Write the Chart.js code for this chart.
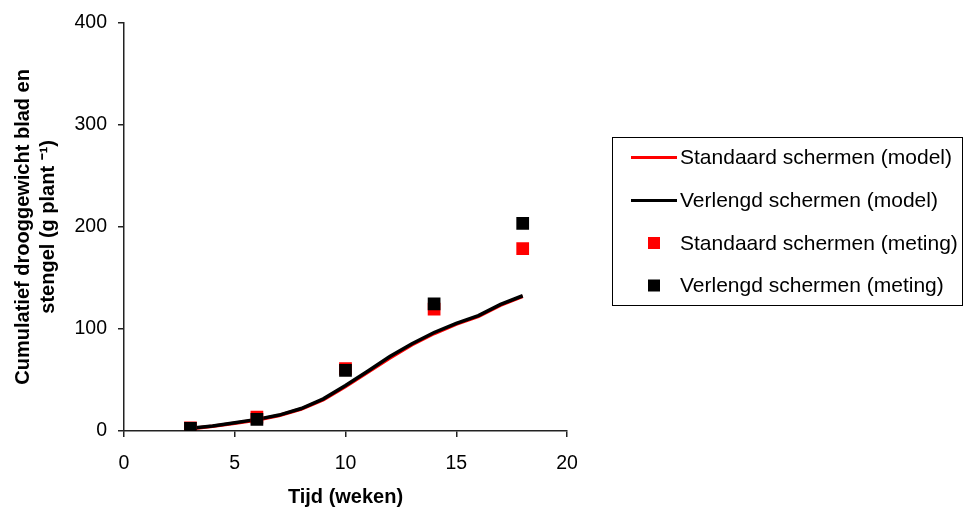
<!DOCTYPE html>
<html>
<head>
<meta charset="utf-8">
<script src="https://cdn.jsdelivr.net/npm/chart.js@4/dist/chart.umd.min.js"></script>
<style>
  html, body { margin: 0; padding: 0; background: #fff; }
  #wrap { position: relative; width: 970px; height: 510px; }
</style>
</head>
<body>
<div id="wrap"><canvas id="chart" width="970" height="510"></canvas></div>
<script>
// model output, weekly
const weeks = [3, 4, 5, 6, 7, 8, 9, 10, 11, 12, 13, 14, 15, 16, 17, 18];
const standaardModel = [2.3, 4.6, 7.6, 10.8, 15.2, 21.5, 30.8, 43.5, 57.5, 71.5, 84.5, 95.5, 104.8, 112.3, 123.3, 132];
const verlengdModel = [2.6, 5, 8, 11.4, 15.6, 22, 31.5, 44.5, 58.5, 73, 85.5, 96.5, 105.5, 113, 124, 132.5];

// measurements
const metingWeeks = [3, 6, 10, 14, 18];
const standaardMeting = [3, 13.5, 61, 119.5, 178.6];
const verlengdMeting = [2.5, 11.5, 59.5, 124.6, 203.3];

const xTicks = [0, 5, 10, 15, 20];
const yTicks = [0, 100, 200, 300, 400];

const seriesNames = [
  "Standaard schermen (model)",
  "Verlengd schermen (model)",
  "Standaard schermen (meting)",
  "Verlengd schermen (meting)",
];

const toXY = (xs, ys) => xs.map((x, i) => ({ x: x, y: ys[i] }));
const fontFamily = "'Liberation Sans', Arial, sans-serif";

// boxed legend at the right, like the original
const boxLegend = {
  id: "boxLegend",
  afterDraw(chart) {
    const ctx = chart.ctx;
    ctx.save();
    ctx.strokeStyle = "#000";
    ctx.lineWidth = 1;
    ctx.strokeRect(612.5, 137.5, 350, 168);
    const rows = [157.5, 200.5, 243, 285.5];
    ctx.font = "21px " + fontFamily;
    ctx.textBaseline = "middle";
    ctx.textAlign = "left";
    chart.data.datasets.forEach((ds, i) => {
      const y = rows[i];
      if (ds.showLine) {
        ctx.strokeStyle = ds.borderColor;
        ctx.lineWidth = 3;
        ctx.beginPath();
        ctx.moveTo(631, y);
        ctx.lineTo(677, y);
        ctx.stroke();
      } else {
        ctx.fillStyle = ds.backgroundColor;
        ctx.fillRect(648, y - 6, 12, 12);
      }
      ctx.fillStyle = "#000";
      ctx.fillText(ds.label, 680, y + 1);
    });
    ctx.restore();
  },
};

new Chart(document.getElementById("chart"), {
  type: "scatter",
  data: {
    datasets: [
      {
        label: seriesNames[0],
        data: toXY(weeks, standaardModel),
        showLine: true,
        borderColor: "#ff0000",
        borderWidth: 3.5,
        pointRadius: 0,
        order: 4,
      },
      {
        label: seriesNames[1],
        data: toXY(weeks, verlengdModel),
        showLine: true,
        borderColor: "#000000",
        borderWidth: 3.5,
        pointRadius: 0,
        order: 3,
      },
      {
        label: seriesNames[2],
        data: toXY(metingWeeks, standaardMeting),
        backgroundColor: "#ff0000",
        borderColor: "#ff0000",
        borderWidth: 0,
        pointStyle: "rect",
        pointRadius: 9,
        order: 2,
      },
      {
        label: seriesNames[3],
        data: toXY(metingWeeks, verlengdMeting),
        backgroundColor: "#000000",
        borderColor: "#000000",
        borderWidth: 0,
        pointStyle: "rect",
        pointRadius: 9,
        order: 1,
      },
    ],
  },
  options: {
    responsive: false,
    animation: false,
    layout: { padding: { top: 20, right: 403, bottom: 0, left: 0 } },
    plugins: {
      legend: { display: false },
      tooltip: { enabled: false },
    },
    scales: {
      x: {
        type: "linear",
        min: 0,
        max: 20,
        afterFit: (scale) => { scale.height = 79; },
        afterBuildTicks: (scale) => { scale.ticks = xTicks.map((v) => ({ value: v })); },
        grid: {
          drawOnChartArea: false,
          tickLength: 6,
          color: "#222",
          lineWidth: 1.5,
        },
        border: { color: "#222", width: 1.5 },
        ticks: {
          color: "#000",
          padding: 15,
          font: { family: fontFamily, size: 19.5 },
        },
        title: {
          display: true,
          text: "Tijd (weken)",
          color: "#000",
          padding: { top: 0, bottom: 1 },
          font: { family: fontFamily, size: 20, weight: "bold" },
        },
      },
      y: {
        type: "linear",
        min: 0,
        max: 400,
        afterFit: (scale) => { scale.width = 124; },
        afterBuildTicks: (scale) => { scale.ticks = yTicks.map((v) => ({ value: v })); },
        grid: {
          drawOnChartArea: false,
          tickLength: 6,
          color: "#222",
          lineWidth: 1.5,
        },
        border: { color: "#222", width: 1.5 },
        ticks: {
          color: "#000",
          padding: 11,
          font: { family: fontFamily, size: 19.5 },
        },
        title: {
          display: true,
          text: ["Cumulatief drooggewicht blad en", "stengel (g plant \u207B\u00B9)"],
          color: "#000",
          padding: { top: 11, bottom: 0 },
          font: { family: fontFamily, size: 20, weight: "bold", lineHeight: 1.25 },
        },
      },
    },
  },
  plugins: [boxLegend],
});
</script>
</body>
</html>
